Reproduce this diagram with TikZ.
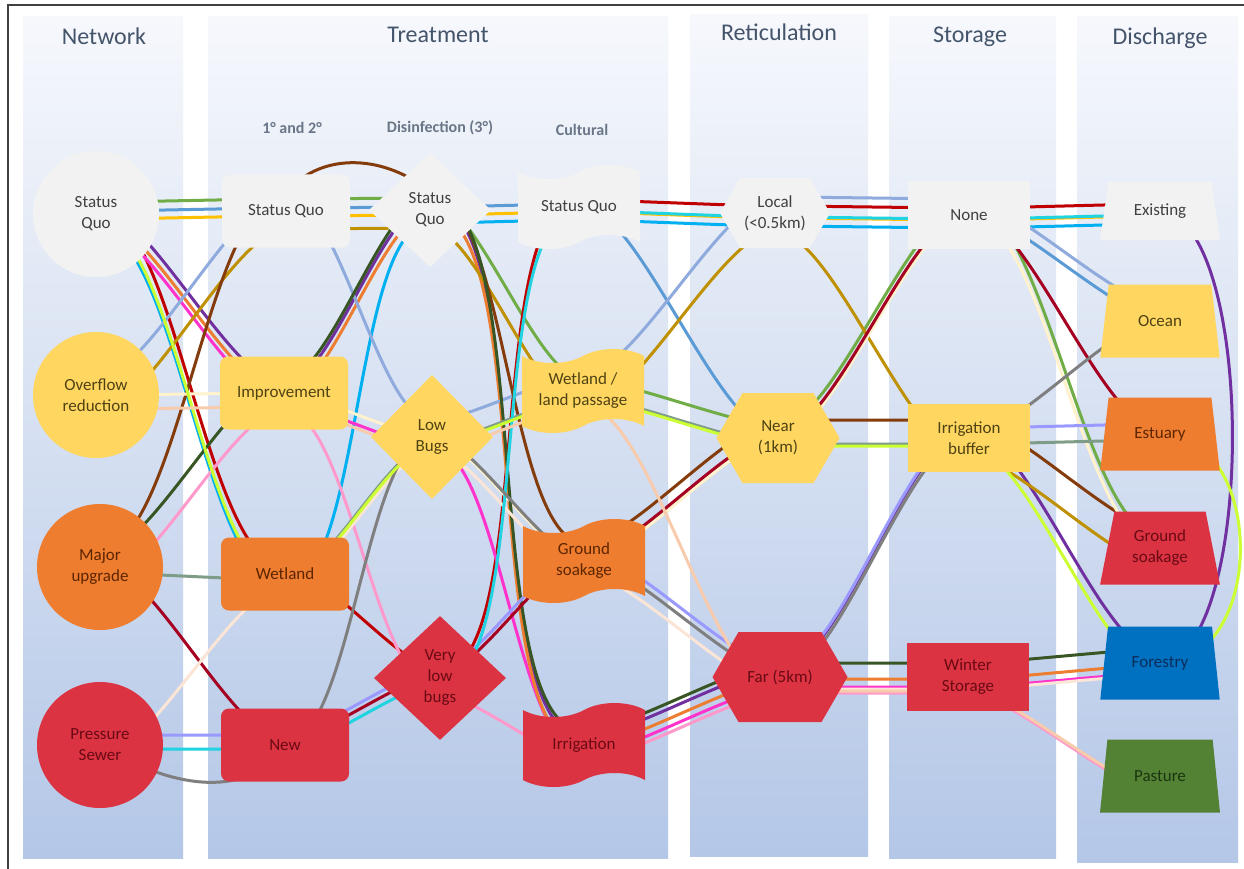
\documentclass[tikz,border=0pt]{standalone}
\usepackage{fontspec}
\setmainfont{Carlito}
\usetikzlibrary{shapes,backgrounds,positioning}

% panel and box colours
\definecolor{panTop}{HTML}{F6F8FC}
\definecolor{panMid}{HTML}{CBD8EF}
\definecolor{panBot}{HTML}{B4C7E7}
\definecolor{ttl}{HTML}{44546A}
\definecolor{fSq}{HTML}{F2F2F2}
\definecolor{fYel}{HTML}{FFD660}
\definecolor{fOrg}{HTML}{EE7D2F}
\definecolor{fRed}{HTML}{DC3342}
\definecolor{fBlu}{HTML}{0070C0}
\definecolor{fGrn}{HTML}{548235}
\definecolor{tSq}{HTML}{404040}
\definecolor{tYel}{HTML}{4F4213}
\definecolor{tOrg}{HTML}{5C2500}
\definecolor{tRed}{HTML}{6A0A14}
\definecolor{tBlu}{HTML}{0B2D5A}
\definecolor{tGrn}{HTML}{1B3510}
% path colours
\definecolor{lGreen}{HTML}{70AD47}
\definecolor{lBlue}{HTML}{5B9BD5}
\definecolor{lGold}{HTML}{FFC000}
\definecolor{lCyan}{HTML}{00B0F0}
\definecolor{lDred}{HTML}{C00000}
\definecolor{lMag}{HTML}{FF33CC}
\definecolor{lPurp}{HTML}{7030A0}
\definecolor{lOrg}{HTML}{ED7D31}
\definecolor{lLblue}{HTML}{8FAADC}
\definecolor{lOlive}{HTML}{BF9000}
\definecolor{lBrown}{HTML}{843C0C}
\definecolor{lCream}{HTML}{FFF2CC}
\definecolor{lCreamB}{HTML}{FBE5D6}
\definecolor{lDgrn}{HTML}{375623}
\definecolor{lPink}{HTML}{FF99CC}
\definecolor{lGgrn}{HTML}{7E9C87}
\definecolor{lCrim}{HTML}{A50021}
\definecolor{lPeach}{HTML}{F8CBAD}
\definecolor{lLav}{HTML}{9999FF}
\definecolor{lTeal}{HTML}{1FD3E0}
\definecolor{lGrey}{HTML}{7F7F7F}
\definecolor{lYgrn}{HTML}{CCFF33}

\pgfdeclarelayer{links}
\pgfsetlayers{background,links,main}

\begin{document}
\begin{tikzpicture}[x=1pt,y=1pt,
  nd/.style={align=center,font=\fontsize{17}{21}\selectfont},
  net/.style={nd,circle,minimum size=126pt,inner sep=0pt},
  prim/.style={nd,rectangle,rounded corners=8pt,minimum width=128pt,minimum height=73pt},
  dis/.style={nd,diamond,minimum width=122pt,minimum height=114pt,inner sep=0pt},
  cult/.style={nd,tape,tape bend height=14pt,minimum width=122pt,minimum height=84pt},
  ret/.style={nd,signal,signal to=west and east,signal pointer angle=120,minimum width=123pt,minimum height=90pt},
  sto/.style={nd,rectangle,minimum width=122pt,minimum height=68pt},
  dsc/.style={nd,trapezium,trapezium left angle=77,trapezium right angle=77,trapezium stretches=true,minimum width=120pt,minimum height=73pt},
  opt0/.style={fill=fSq,text=tSq},
  opt1/.style={fill=fYel,text=tYel},
  opt2/.style={fill=fOrg,text=tOrg},
  opt3/.style={fill=fRed,text=tRed},
  optB/.style={fill=fBlu,text=tBlu},
  optG/.style={fill=fGrn,text=tGrn},
  lnk/.style={line width=3pt,line cap=round,out=0,in=180,looseness=0.5},
  colhead/.style={text=ttl,font=\fontsize{24}{28}\selectfont},
  subhead/.style={text=ttl!80,font=\bfseries\fontsize{16}{18}\selectfont}]
  \useasboundingbox (0,0) rectangle (1244,-869);

% columns
\begin{scope}[on background layer]
  \fill[white] (0,0) rectangle (1244,-869);
  \shade[top color=panTop,middle color=panMid,bottom color=panBot] (23,-17) rectangle (183,-858);
  \shade[top color=panTop,middle color=panMid,bottom color=panBot] (208,-17) rectangle (668,-858);
  \shade[top color=panTop,middle color=panMid,bottom color=panBot] (690,-15) rectangle (868,-856);
  \shade[top color=panTop,middle color=panMid,bottom color=panBot] (889,-17) rectangle (1056,-858);
  \shade[top color=panTop,middle color=panMid,bottom color=panBot] (1077,-17) rectangle (1238,-862);
\end{scope}
  \draw[line width=2pt,black!75] (8,-869) -- (8,-5) -- (1244,-5);

  \node[colhead] (hnet) at (104,-36) {Network};
  \node[colhead] (htre) at (438,-35) {Treatment};
  \node[colhead] (hret) at (779,-32) {Reticulation};
  \node[colhead] (hsto) at (970,-37) {Storage};
  \node[colhead] (hdis) at (1160,-38) {Discharge};
  \node[subhead] (hprim) at (292,-128) {1° and 2°};
  \node[subhead] (hdisf) at (440,-128) {Disinfection (3°)};
  \node[subhead] (hcult) at (582,-130) {Cultural};

% network
  \node[net,opt0] (nsq) at (96,-214) {Status\\Quo};
  \node[net,opt1] (nov) at (96,-395) {Overflow\\reduction};
  \node[net,opt2] (nmaj) at (100,-567) {Major\\upgrade};
  \node[net,opt3] (npre) at (100,-745) {Pressure\\Sewer};
% treatment
  \node[prim,opt0] (tsq) at (286,-211) {Status Quo};
  \node[prim,opt1] (timp) at (284,-393) {Improvement};
  \node[prim,opt2] (twet) at (285,-574) {Wetland};
  \node[prim,opt3] (tnew) at (285,-745) {New};
  \node[dis,opt0] (dsq) at (430,-210) {Status\\Quo};
  \node[dis,opt1,minimum height=124pt] (dlow) at (432,-437) {Low\\Bugs};
  \node[dis,opt3,minimum width=132pt,minimum height=124pt] (dvlow) at (440,-678) {Very\\low\\bugs};
  \node[cult,opt0] (csq) at (579,-207) {Status Quo};
  \node[cult,opt1] (cwet) at (583,-391) {Wetland /\\land passage};
  \node[cult,opt2] (cgro) at (584,-561) {Ground\\soakage};
  \node[cult,opt3] (cirr) at (584,-745) {Irrigation};
% reticulation
  \node[ret,opt0,minimum width=110pt,minimum height=70pt] (rloc) at (775,-213) {Local\\(<0.5km)};
  \node[ret,opt1] (rnear) at (778,-438) {Near\\(1km)};
  \node[ret,opt3,minimum width=135pt] (rfar) at (780,-677) {Far (5km)};
% storage
  \node[sto,opt0] (snone) at (969,-215) {None};
  \node[sto,opt1] (sbuf) at (969,-438) {Irrigation\\buffer};
  \node[sto,opt3] (swin) at (968,-677) {Winter\\Storage};
% discharge
  \node[dsc,opt0,minimum height=58pt] (eexi) at (1160,-211) {Existing};
  \node[dsc,opt1] (eoc) at (1160,-321) {Ocean};
  \node[dsc,opt2] (eest) at (1160,-434) {Estuary};
  \node[dsc,opt3] (egro) at (1160,-548) {Ground\\soakage};
  \node[dsc,optB] (efor) at (1160,-663) {Forestry};
  \node[dsc,optG] (epas) at (1160,-776) {Pasture};

% option paths
\begin{pgfonlayer}{links}
  \draw[lnk,lGreen,transform canvas={yshift=12pt}] (nsq.center) to (tsq.center) to (dsq.center) to (cwet.center) to (rnear.center) to (snone.center) to (egro.center);
  \draw[lnk,lBlue,transform canvas={yshift=3pt}] (nsq.center) to (tsq.center) to (dsq.center) to (csq.center) to (rnear.center) to (snone.center) to (eoc.center);
  \draw[lnk,lGold,transform canvas={yshift=-5pt}] (nsq.center) to (tsq.center) to (dsq.center) to (csq.center) to (rloc.center) to (snone.center) to (eexi.center);
  \draw[lnk,lCyan,transform canvas={yshift=-13pt}] (nsq.center) to (twet.center) to (dsq.center) to (csq.center) to (rloc.center) to (snone.center) to (eexi.center);
  \draw[lnk,lDred,transform canvas={yshift=7pt}] (nsq.center) to (twet.center) to (dvlow.center) to (csq.center) to (rloc.center) to (snone.center) to (eexi.center);
  \draw[lnk,lMag,transform canvas={yshift=-10pt}] (nsq.center) to (timp.center) to (dlow.center) to (cirr.center) to (rfar.center) to (swin.center) to (efor.center);
  \draw[lnk,lPurp,transform canvas={yshift=8pt}] (nsq.center) to (timp.center) to (dsq.center) to (cirr.center) to (rfar.center) to (sbuf.center) to (efor.center);
  \draw[lnk,lOrg,transform canvas={yshift=-2pt}] (nsq.center) to (timp.center) to (dsq.center) to (cirr.center) to (rfar.center) to (swin.center) to (efor.center);
  \draw[lnk,lLblue,transform canvas={yshift=16pt}] (nov.center) to (tsq.center) to (dlow.center) to (cwet.center) to (rloc.center) to (snone.center) to (eoc.center);
  \draw[lnk,lOlive,transform canvas={yshift=-18pt}] (nov.center) to (tsq.center) to (dsq.center) to (cwet.center) to (rloc.center) to (sbuf.center) to (egro.center);
  \draw[lnk,lBrown,transform canvas={yshift=18pt}] (nmaj.center) to (tsq.center) to[out=50,in=140,looseness=1] (dsq.center) to (cgro.center) to (rnear.center) to (sbuf.center) to (egro.center);
  \draw[lnk,lCream] (nov.center) to (timp.center) to (dlow.center) to (cgro.center) to (rnear.center) to (snone.center) to (egro.center);
  \draw[lnk,lDgrn,transform canvas={yshift=14pt}] (nmaj.center) to (timp.center) to (dsq.center) to (cirr.center) to (rfar.center) to (swin.center) to (efor.center);
  \draw[lnk,lPink,transform canvas={yshift=-16pt}] (nmaj.center) to (timp.center) to (dvlow.center) to (cirr.center) to (rfar.center) to (swin.center) to (epas.center);
  \draw[lnk,lGgrn,transform canvas={yshift=-6pt}] (nmaj.center) to (twet.center) to (dlow.center) to (cwet.center) to (rnear.center) to (sbuf.center) to (eest.center);
  \draw[lnk,lCrim,transform canvas={yshift=4pt}] (nmaj.center) to (tnew.center) to (dvlow.center) to (cgro.center) to (rnear.center) to (snone.center) to (eest.center);
  \draw[lnk,lCreamB,transform canvas={yshift=-12pt}] (npre.center) to (twet.center) to (dlow.center) to (cgro.center) to (rfar.center) to (swin.center) to (efor.center);
  \draw[lnk,lLav,transform canvas={yshift=10pt}] (npre.center) to (tnew.center) to (dvlow.center) to (cgro.center) to (rfar.center) to (sbuf.center) to (eest.center);
  \draw[lnk,lTeal,transform canvas={yshift=-4pt}] (npre.center) to (tnew.center) to (dvlow.center) to (csq.center) to (rloc.center) to (snone.center) to (eexi.center);
  \draw[lnk,lGrey,transform canvas={yshift=2pt}] (npre.center) to[out=-35,in=-120,looseness=1] (tnew.center) to (dlow.center) to (cgro.center) to (rfar.center) to (sbuf.center) to (eoc.center);
  \draw[lnk,lYgrn,transform canvas={yshift=-8pt}] (nsq.center) to (twet.center) to (dlow.center) to (cwet.center) to (rnear.center) to (sbuf.center) to (efor.center);
  \draw[lnk,lPeach,transform canvas={yshift=-14pt}] (nov.center) to (timp.center) to (dlow.center) to (cwet.center) to (rfar.center) to (swin.center) to (epas.center);
% loops round the right edge
  \draw[lnk,lPurp] (eexi.center) to[out=-5,in=5,looseness=0.55] (efor.center);
  \draw[lnk,lYgrn] (eest.center) to[out=0,in=0,looseness=1.2] (efor.center);
\end{pgfonlayer}
\end{tikzpicture}
\end{document}
